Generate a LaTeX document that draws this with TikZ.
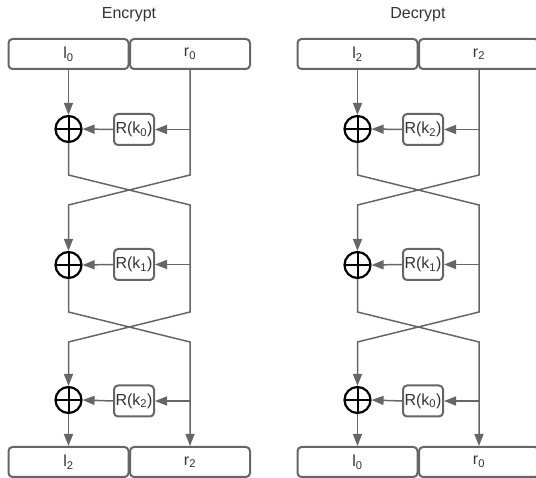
\documentclass[tikz,border=0pt]{standalone}
\usepackage{fontspec}
\setmainfont{Liberation Sans}
\usetikzlibrary{arrows.meta}

\definecolor{wiregray}{HTML}{666666}
\definecolor{inkgray}{HTML}{333333}

\tikzset{
  labelfont/.style={text=inkgray, font=\fontsize{16}{19}\selectfont},
  halfbox/.style={draw=wiregray, line width=2pt, rounded corners=4pt, fill=white,
    minimum width=120pt, minimum height=30pt, inner sep=0pt, labelfont},
  roundfn/.style={draw=wiregray, line width=2pt, rounded corners=4pt, fill=white,
    minimum width=40pt, minimum height=31pt, inner sep=0pt, labelfont},
  xorgate/.style={circle, draw=black, line width=2.2pt, minimum size=26pt, inner sep=0pt,
    path picture={\draw[black, line width=2pt]
      (path picture bounding box.north) -- (path picture bounding box.south)
      (path picture bounding box.west) -- (path picture bounding box.east);}},
  wireline/.style={draw=wiregray, line width=1.5pt},
  flow/.style={wireline, -{Triangle[length=12pt,width=9pt]}},
}

\begin{document}
\begin{tikzpicture}[x=1pt, y=-1pt]
  \useasboundingbox (0,0) rectangle (536,478);
  \clip (0,0) rectangle (536,478);

  % one three-round Feistel network per column
  \foreach \side/\dx/\title/\ka/\kb/\kc/\ti/\to in
      {enc/0/Encrypt/0/1/2/0/2, dec/289/Decrypt/2/1/0/2/0} {
    \begin{scope}[xshift=\dx pt]
      \node[labelfont] (\side-title) at (129,15) {\title};

      % input and output halves
      \node[halfbox] (\side-tl) at (68.5,54) {l\textsubscript{\ti}};
      \node[halfbox] (\side-tr) at (190,54) {r\textsubscript{\ti}};
      \node[halfbox] (\side-bl) at (68.5,462) {l\textsubscript{\to}};
      \node[halfbox] (\side-br) at (190,462) {r\textsubscript{\to}};

      % xor gates and round functions
      \node[xorgate] (\side-x1) at (68.5,129) {};
      \node[xorgate] (\side-x2) at (68.5,265) {};
      \node[xorgate] (\side-x3) at (68.5,400) {};
      \node[roundfn] (\side-f1) at (134,129.5) {R(k\textsubscript{\ka})};
      \node[roundfn] (\side-f2) at (134,264.5) {R(k\textsubscript{\kb})};
      \node[roundfn] (\side-f3) at (134,401) {R(k\textsubscript{\kc})};

      % taps on the right half and swap bends
      \coordinate (\side-j1) at (190,129.5);
      \coordinate (\side-j2) at (190,264.5);
      \coordinate (\side-j3) at (190,401);
      \coordinate (\side-a1l) at (68.5,175);
      \coordinate (\side-a1r) at (190,175);
      \coordinate (\side-b1l) at (68.5,205);
      \coordinate (\side-b1r) at (190,205);
      \coordinate (\side-a2l) at (68.5,312);
      \coordinate (\side-a2r) at (190,312);
      \coordinate (\side-b2l) at (68.5,342);
      \coordinate (\side-b2r) at (190,342);

      % data paths
      \draw[flow] (\side-tl.south) -- (\side-x1.north);
      \draw[flow] (\side-tr.south) -- (\side-a1r) -- (\side-b1l) -- (\side-x2.north);
      \draw[flow] (\side-x1.south) -- (\side-a1l) -- (\side-b1r) -- (\side-a2r)
                  -- (\side-b2l) -- (\side-x3.north);
      \draw[flow] (\side-x2.south) -- (\side-a2l) -- (\side-b2r) -- (\side-br.north);
      \draw[flow] (\side-x3.south) -- (\side-bl.north);

      % round function feeds
      \draw[flow] (\side-j1) -- (\side-f1.east);
      \draw[flow] (\side-f1.west) -- (\side-x1.east);
      \draw[flow] (\side-j2) -- (\side-f2.east);
      \draw[flow] (\side-f2.west) -- (\side-x2.east);
      \draw[flow] (\side-j3) -- (\side-f3.east);
      \draw[flow] (\side-f3.west) -- (\side-x3.east);
    \end{scope}
  }
\end{tikzpicture}
\end{document}
